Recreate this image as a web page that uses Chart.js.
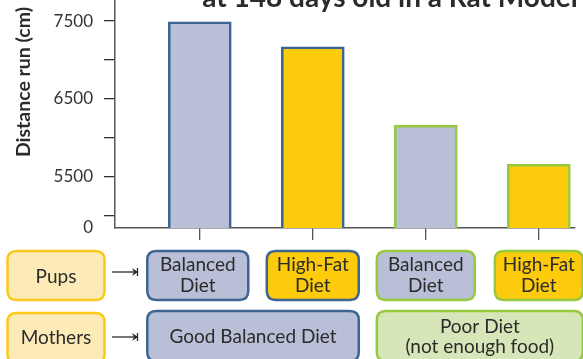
<!DOCTYPE html>
<html>
<head>
<meta charset="utf-8">
<script src="https://cdn.jsdelivr.net/npm/chart.js@4/dist/chart.umd.min.js"></script>
<style>
  html, body { margin: 0; padding: 0; background: #ffffff; }
  #wrap { width: 583px; height: 359px; position: relative; }
</style>
</head>
<body>
<div id="wrap"><canvas id="chart" width="583" height="359"></canvas></div>
<script>
// Distance run by each diet group
const groups = ['Good / Balanced', 'Good / High-Fat', 'Poor / Balanced', 'Poor / High-Fat'];
const distanceRun = [7490, 7170, 6165, 5663];

// Diet labels shown under the bars
const pupDiets = [['Balanced', 'Diet'], ['High-Fat', 'Diet'], ['Balanced', 'Diet'], ['High-Fat', 'Diet']];
const motherDiets = [['Good Balanced Diet'], ['Poor Diet', '(not enough food)']];
const rowLabels = ['Pups', 'Mothers'];

// Y axis: broken axis, the bottom of the scale reads as 0
const yTickValues = [5000, 5500, 6000, 6500, 7000, 7500];
const yTickLabels = ['', '5500', '', '6500', '', '7500'];
const yAxisFloor = 4845;
const yFloorLabel = '0';
const yAxisTop = 7770;

const titleText = 'at 148 days old in a Rat Model';
const yTitleText = 'Distance run (cm)';

const LAVENDER = '#b9bfd6';
const GOLD = '#fccb0b';
const BLUE = '#3d6592';
const GREEN = '#97c93f';
const PALE_GREEN = '#d6e6b8';
const PALE_YELLOW = '#fdebb7';
const YELLOW_EDGE = '#fcc81a';
const INK = '#2b2b2b';
const FONT = 'Lato, "Noto Sans", sans-serif';

const fills = [LAVENDER, GOLD, LAVENDER, GOLD];
const edges = [BLUE, BLUE, GREEN, GREEN];

function roundBox(ctx, x, y, w, h, r, fill, stroke, lw) {
  ctx.beginPath();
  ctx.moveTo(x + r, y);
  ctx.lineTo(x + w - r, y);
  ctx.quadraticCurveTo(x + w, y, x + w, y + r);
  ctx.lineTo(x + w, y + h - r);
  ctx.quadraticCurveTo(x + w, y + h, x + w - r, y + h);
  ctx.lineTo(x + r, y + h);
  ctx.quadraticCurveTo(x, y + h, x, y + h - r);
  ctx.lineTo(x, y + r);
  ctx.quadraticCurveTo(x, y, x + r, y);
  ctx.closePath();
  ctx.fillStyle = fill;
  ctx.fill();
  ctx.lineWidth = lw;
  ctx.strokeStyle = stroke;
  ctx.stroke();
}

function boxText(ctx, lines, cx, cy, lineGap) {
  ctx.fillStyle = INK;
  ctx.textAlign = 'center';
  ctx.textBaseline = 'middle';
  const start = cy - (lines.length - 1) * lineGap / 2;
  lines.forEach((t, i) => ctx.fillText(t, cx, start + i * lineGap));
}

function arrow(ctx, x0, x1, y) {
  ctx.strokeStyle = INK;
  ctx.lineWidth = 1.3;
  ctx.beginPath();
  ctx.moveTo(x0, y);
  ctx.lineTo(x1, y);
  ctx.stroke();
  ctx.beginPath();
  ctx.moveTo(x1 + 1, y);
  ctx.lineTo(x1 - 5, y - 4);
  ctx.lineTo(x1 - 3, y);
  ctx.lineTo(x1 - 5, y + 4);
  ctx.closePath();
  ctx.fillStyle = INK;
  ctx.fill();
  ctx.beginPath();
  ctx.moveTo(x1 + 0.5, y - 4);
  ctx.lineTo(x1 + 0.5, y + 4);
  ctx.stroke();
}

// Titles and the diet boxes under the axis
const decorations = {
  id: 'decorations',
  afterDraw(chart) {
    const ctx = chart.ctx;
    const xs = chart.scales.x;
    ctx.save();

    // chart title (upper part falls outside the canvas)
    ctx.font = 'bold 28px ' + FONT;
    ctx.fillStyle = INK;
    ctx.textAlign = 'center';
    ctx.textBaseline = 'alphabetic';
    ctx.fillText(titleText, 390, 7);

    // y axis title
    ctx.save();
    ctx.translate(24, 82);
    ctx.rotate(-Math.PI / 2);
    ctx.font = 'bold 19.5px ' + FONT;
    ctx.textAlign = 'center';
    ctx.textBaseline = 'middle';
    ctx.fillText(yTitleText, 0, 0);
    ctx.restore();

    ctx.font = '19px ' + FONT;

    // row labels
    const pupTop = 251, pupH = 49;
    const momTop = 311, momH = 50;
    roundBox(ctx, 7.5, pupTop, 97, pupH, 9, PALE_YELLOW, YELLOW_EDGE, 2.5);
    boxText(ctx, [rowLabels[0]], 56, pupTop + pupH / 2 + 1, 21);
    roundBox(ctx, 7.5, momTop + 2, 97, momH, 9, PALE_YELLOW, YELLOW_EDGE, 2.5);
    boxText(ctx, [rowLabels[1]], 56, momTop + 27, 21);
    arrow(ctx, 112, 137, pupTop + 21);
    arrow(ctx, 112, 137, momTop + 26);

    // pup diet boxes, one under each bar
    const pupWidths = [101, 92, 98, 88];
    const lefts = [], rights = [];
    pupDiets.forEach((lines, i) => {
      const cx = xs.getPixelForValue(i);
      const w = pupWidths[i];
      const left = cx - w / 2 - (i === 0 ? 2 : 0);
      lefts.push(left);
      rights.push(left + w);
      roundBox(ctx, left, pupTop, w, pupH, 9, fills[i], edges[i], 2.5);
      boxText(ctx, lines, left + w / 2, pupTop + pupH / 2, 21);
    });

    // mother diet boxes, spanning each pair of bars
    const momFills = [LAVENDER, PALE_GREEN];
    const momEdges = [BLUE, GREEN];
    motherDiets.forEach((lines, k) => {
      const left = lefts[2 * k];
      const right = rights[2 * k + 1];
      roundBox(ctx, left, momTop, right - left, momH, 9, momFills[k], momEdges[k], 2.5);
      boxText(ctx, lines, (left + right) / 2, momTop + 26, 20);
    });

    ctx.restore();
  }
};

new Chart(document.getElementById('chart'), {
  type: 'bar',
  data: {
    labels: groups,
    datasets: [{
      data: distanceRun.map((v, i) => ({ x: i, y: v })),
      backgroundColor: fills,
      borderColor: edges,
      borderWidth: 2.6,
      borderSkipped: false,
      barThickness: 63
    }]
  },
  options: {
    responsive: false,
    devicePixelRatio: 1,
    animation: false,
    layout: { padding: { left: 0, right: 8, top: 0, bottom: 119 } },
    plugins: {
      legend: { display: false },
      title: { display: false },
      tooltip: { enabled: false }
    },
    scales: {
      x: {
        type: 'linear',
        offset: false,
        min: -0.75,
        max: 3.32,
        afterBuildTicks(scale) {
          scale.ticks = groups.map((g, i) => ({ value: i }));
        },
        afterFit(scale) {
          scale.paddingLeft = 0;
          scale.paddingRight = 0;
        },
        ticks: { display: false },
        grid: { offset: false, drawOnChartArea: false, drawTicks: true, tickLength: 12, color: '#555', lineWidth: 1.3 },
        border: { display: true, color: '#555', width: 1.5 }
      },
      y: {
        min: yAxisFloor,
        max: yAxisTop,
        afterBuildTicks(scale) {
          scale.ticks = [{ value: yAxisFloor }].concat(yTickValues.map(v => ({ value: v })));
        },
        afterFit(scale) {
          scale.width = 115;
          scale.paddingTop = 0;
          scale.paddingBottom = 0;
        },
        ticks: {
          padding: 11,
          color: '#333',
          font: { family: FONT, size: 17 },
          callback(value) {
            if (value === yAxisFloor) return yFloorLabel;
            const k = yTickValues.indexOf(value);
            return k >= 0 ? yTickLabels[k] : '';
          }
        },
        grid: {
          drawOnChartArea: false,
          drawTicks: true,
          tickLength: 11,
          color: (c) => (c.tick && c.tick.value === yAxisFloor ? 'rgba(0,0,0,0)' : '#333'),
          lineWidth: 1.3
        },
        border: { display: true, color: '#555', width: 1.5 }
      }
    }
  },
  plugins: [decorations]
});
</script>
</body>
</html>
